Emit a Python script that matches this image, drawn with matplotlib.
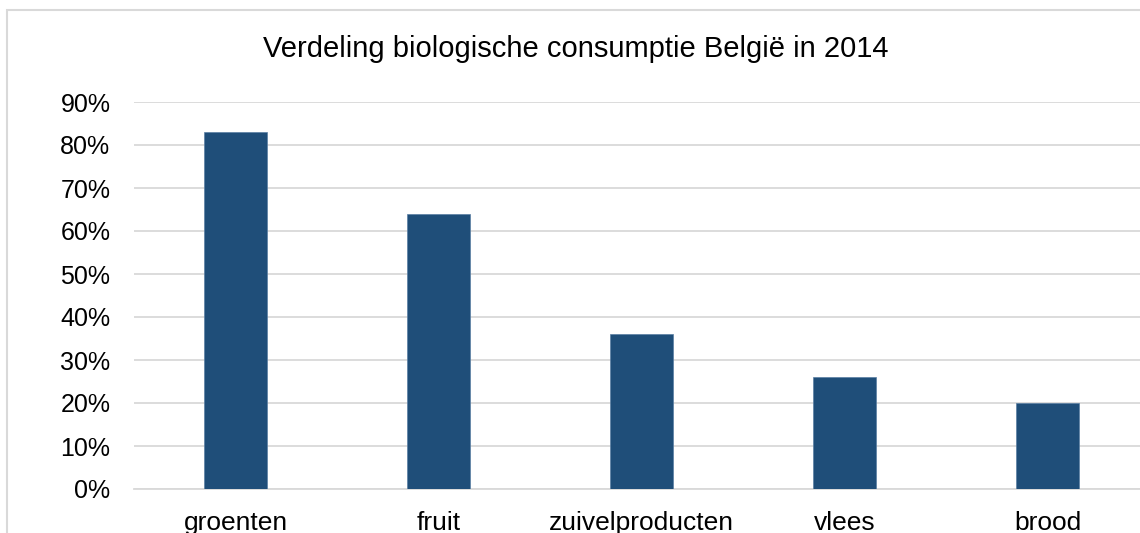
import matplotlib.pyplot as plt
from matplotlib.patches import Rectangle
from matplotlib.ticker import FuncFormatter

# data
categorieen = ['groenten', 'fruit', 'zuivelproducten', 'vlees', 'brood']
aandeel = [83, 64, 36, 26, 20]
y_ticks = [0, 10, 20, 30, 40, 50, 60, 70, 80, 90]

plt.rcParams['font.family'] = ['Liberation Sans', 'DejaVu Sans']

W, H = 1140, 533
fig = plt.figure(figsize=(W / 100, H / 100), dpi=100)

# plot area in pixels (left, top, right, bottom)
L, T, R, B = 134, 102, 1149, 489
ax = fig.add_axes([L / W, 1 - B / H, (R - L) / W, (B - T) / H])

x = range(len(categorieen))
ax.bar(x, aandeel, width=0.31, color='#1F4E79', edgecolor='#5a7fa3', linewidth=0.5, zorder=3)

ax.set_xlim(-0.5, len(categorieen) - 0.5)
ax.set_ylim(0, 90)
ax.set_yticks(y_ticks)
ax.yaxis.set_major_formatter(FuncFormatter(lambda v, p: f'{int(v)}%'))
ax.set_xticks(list(x))
ax.set_xticklabels(categorieen)

ax.grid(axis='y', color='#D9D9D9', linewidth=1.3, zorder=0)
ax.tick_params(axis='both', length=0, colors='black')
ax.tick_params(axis='y', pad=17, labelsize=18)
ax.tick_params(axis='x', pad=16, labelsize=19)
for s in ['top', 'right', 'left']:
    ax.spines[s].set_visible(False)
ax.spines['bottom'].set_color('#D9D9D9')
ax.spines['bottom'].set_linewidth(1.3)

fig.text(576 / W, 1 - 49 / H, 'Verdeling biologische consumptie België in 2014',
         ha='center', va='center', fontsize=21)

# chart border (right and bottom edges fall outside the picture)
fig.patches.append(Rectangle((7 / W, -0.1), 1.2, 1.1 - 10 / H, transform=fig.transFigure,
                             fill=False, edgecolor='#D9D9D9', linewidth=1.5))

fig.savefig('out.png', dpi=100)
